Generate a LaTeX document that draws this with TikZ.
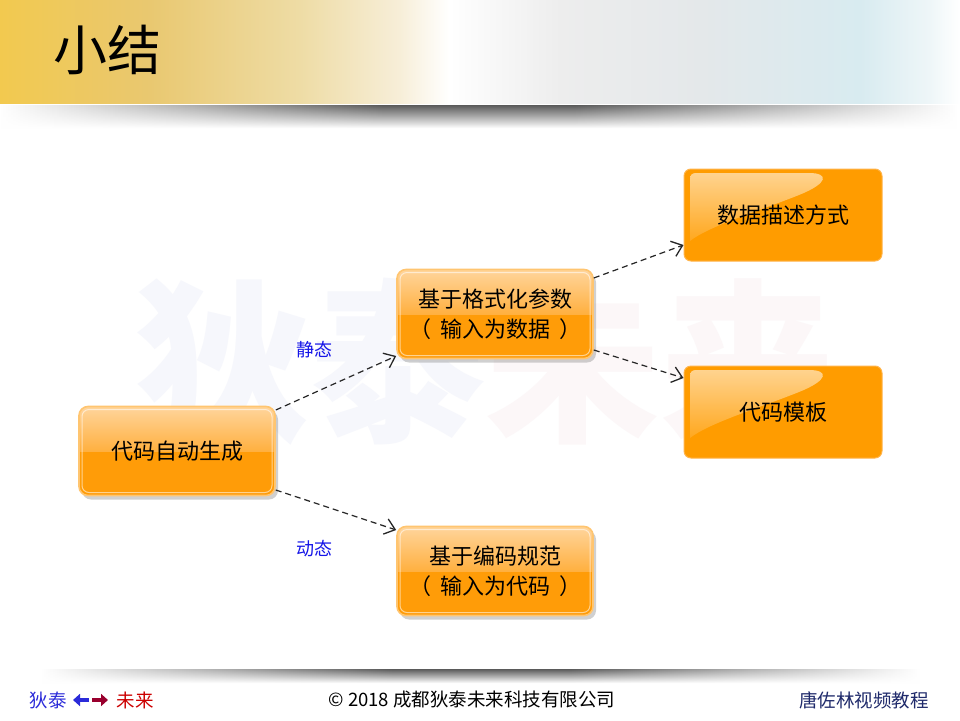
\documentclass[tikz,border=0pt]{standalone}
\usepackage{fontspec}
\setmainfont{Noto Sans CJK SC}
\usetikzlibrary{arrows.meta,shadows,fadings,calc}
\definecolor{hg0}{HTML}{F2C94F}
\definecolor{hg1}{HTML}{E9C870}
\definecolor{hg2}{HTML}{EEDCA5}
\definecolor{hg3}{HTML}{F7EED8}
\definecolor{hg4}{HTML}{EDEDED}
\definecolor{hg5}{HTML}{E4E8EA}
\definecolor{hg6}{HTML}{D8EBF0}
\definecolor{hg7}{HTML}{EEF6F8}
\definecolor{sg1}{HTML}{B0B0B0}
\definecolor{sg2}{HTML}{5A5A5A}
\definecolor{ortop}{HTML}{FFD59C}
\definecolor{ormid}{HTML}{FFB040}
\definecolor{orbot}{HTML}{FF9C08}
\definecolor{orb}{HTML}{FFC570}
\definecolor{orf}{HTML}{FF9C00}
\definecolor{orfb}{HTML}{FFB44A}
\definecolor{wmb}{HTML}{F6F7FC}
\definecolor{wmr}{HTML}{FCF7F8}
\definecolor{lblblue}{HTML}{1515E8}
\definecolor{ftblue}{HTML}{2B2BD9}
\definecolor{ftred}{HTML}{CC0000}
\definecolor{ftdred}{HTML}{99002E}
\definecolor{ftnavy}{HTML}{1F2A6B}
\pgfdeclarehorizontalshading{hdr}{100bp}{color(0bp)=(hg0); color(25bp)=(hg0); color(32.8bp)=(hg1); color(40.6bp)=(hg2); color(45.8bp)=(hg3); color(48.4bp)=(white); color(54.2bp)=(hg4); color(61.5bp)=(hg5); color(69.8bp)=(hg6); color(73.4bp)=(hg7); color(75bp)=(white); color(100bp)=(white)}
\pgfdeclarehorizontalshading{shd}{100bp}{color(0bp)=(white); color(25bp)=(white); color(35bp)=(sg1); color(45bp)=(sg2); color(55bp)=(sg2); color(65bp)=(sg1); color(75bp)=(white); color(100bp)=(white)}
\newcommand{\pgap}{\hspace{9pt}}
\tikzset{
  gbox/.style={rounded corners=9pt, minimum width=196pt, minimum height=89pt,
    fill=orbot, draw=orb, line width=1.6pt, align=center,
    font=\fontsize{22}{30}\selectfont,
    drop shadow={shadow xshift=3pt, shadow yshift=-4pt, opacity=0.3, fill=black!60},
    path picture={
      \coordinate (nw) at (path picture bounding box.north west);
      \coordinate (ee) at (path picture bounding box.east);
      \coordinate (se) at (path picture bounding box.south east);
      \shade[sharp corners, top color=ortop, bottom color=ormid] (nw) rectangle (ee);
      \draw[white, opacity=0.55, line width=1pt, rounded corners=7pt]
        ([xshift=3pt,yshift=-3pt]nw) rectangle ([xshift=-3pt,yshift=3pt]se);
    }},
  fbox/.style={rounded corners=7pt, minimum width=198pt, minimum height=92pt,
    fill=orf, draw=orfb, line width=1pt, align=center,
    font=\fontsize{22}{30}\selectfont,
    path picture={
      \coordinate (nw) at (path picture bounding box.north west);
      \shade[sharp corners, top color=orf!30!white, bottom color=orf!85!white, opacity=0.8]
        ($(nw)+(12,4)$) -- ($(nw)+(125,4)$)
        .. controls ($(nw)+(145,4)$) and ($(nw)+(145,14)$) .. ($(nw)+(115,26)$)
        .. controls ($(nw)+(75,42)$) and ($(nw)+(25,57)$) .. ($(nw)+(6,72)$)
        -- ($(nw)+(6,10)$) .. controls ($(nw)+(6,6)$) and ($(nw)+(8,4)$) .. cycle;
    }},
  conn/.style={draw=black!85, line width=1.2pt, dash pattern=on 6pt off 4pt,
    -{Straight Barb[length=10pt,width=16pt,line width=1.3pt]}},
  lbl/.style={text=lblblue, font=\fontsize{18}{20}\selectfont},
  foot/.style={font=\fontsize{18.5}{20}\selectfont, inner sep=0pt}
}
\begin{document}
\begin{tikzpicture}[x=1pt,y=-1pt]
\useasboundingbox (0,0) rectangle (960,720);
\fill[white] (0,0) rectangle (960,720);
% header
\shade[shading=hdr] (0,0) rectangle (960,103);
\shade[shading=shd, path fading=south] (0,105) rectangle (960,128);
\node[font=\fontsize{54}{60}\selectfont, inner sep=0pt] (title) at (107,50) {小结};
% watermark
\node[font=\fontsize{175}{180}\selectfont\bfseries, inner sep=0pt] (wm) at (485,362)
  {{\color{wmb}狄泰}{\color{wmr}未来}};
% nodes
\node[gbox] (A) at (177,451) {代码自动生成};
\node[gbox] (B) at (495,314) {基于格式化参数\\（\pgap 输入为数据\pgap ）};
\node[gbox] (C) at (495,571) {基于编码规范\\（\pgap 输入为代码\pgap ）};
\node[fbox] (D) at (783,215) {数据描述方式};
\node[fbox] (E) at (783,412) {代码模板};
% connectors
\draw[conn] ([yshift=41pt]A.east) -- ([yshift=-42pt]B.west);
\draw[conn] ([yshift=-39pt]A.east) -- ([yshift=41pt]C.west);
\draw[conn] ([yshift=36pt]B.east) -- ([yshift=-30pt]D.west);
\draw[conn] ([yshift=-36pt]B.east) -- ([yshift=34pt]E.west);
\node[lbl] (s) at (314,350) {静态};
\node[lbl] (d) at (314,549) {动态};
% footer
\shade[shading=shd, path fading=south] (40,669) rectangle (920,683);
\node[foot, text=ftblue] (f1) at (48,700) {狄泰};
\coordinate (la) at (89,700);
\coordinate (lb) at (73,700);
\coordinate (ra) at (92,700);
\coordinate (rb) at (108,700);
\draw[ftblue, line width=3.5pt, -{Triangle[length=7pt,width=12pt]}] (la) -- (lb);
\draw[ftdred, line width=3.5pt, -{Triangle[length=7pt,width=12pt]}] (ra) -- (rb);
\node[foot, text=ftred] (f2) at (135,700) {未来};
\node[foot] (f3) at (472,700) {© 2018 成都狄泰未来科技有限公司};
\node[foot, text=ftnavy] (f4) at (864,700) {唐佐林视频教程};
\end{tikzpicture}
\end{document}
